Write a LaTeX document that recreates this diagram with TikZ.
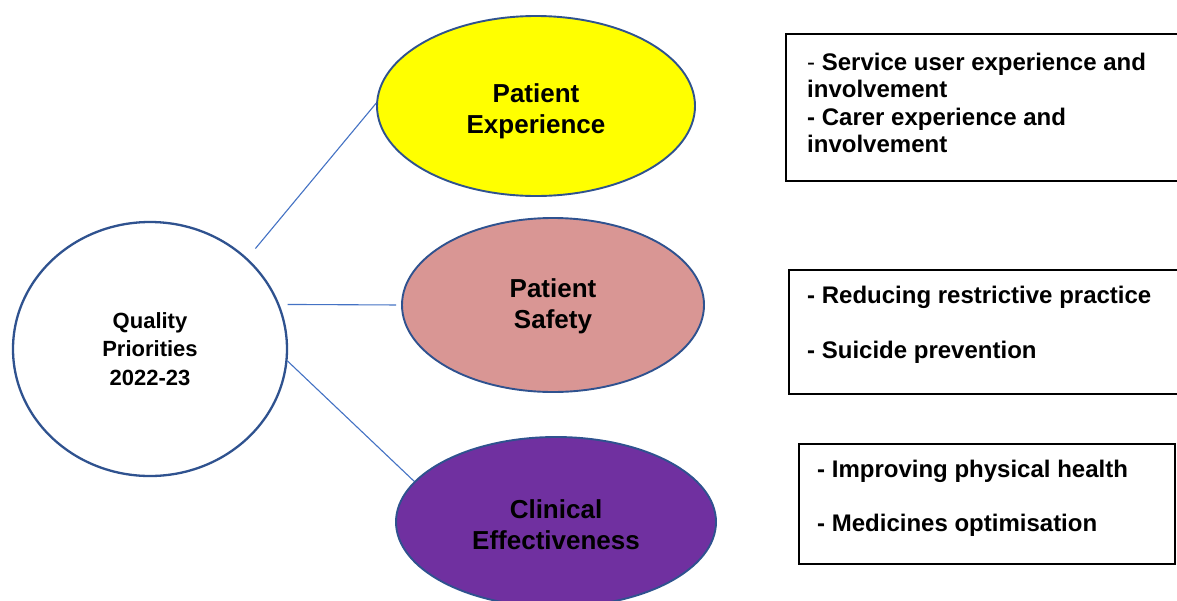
\documentclass[tikz,border=0pt]{standalone}
\usepackage{fontspec}
\setmainfont{Liberation Sans}
\usetikzlibrary{shapes.geometric}
\definecolor{rimblue}{HTML}{2F528F}
\definecolor{linkblue}{HTML}{4472C4}
\definecolor{peyellow}{HTML}{FFFF00}
\definecolor{pspink}{HTML}{D99694}
\definecolor{cepurple}{HTML}{7030A0}

\begin{document}
\begin{tikzpicture}[x=1pt,y=-1pt,
  hub/.style={ellipse, draw=rimblue, line width=2.3pt, fill=white, inner sep=0pt,
    minimum width=274pt, minimum height=254pt, align=center,
    font=\fontsize{22}{28.5}\selectfont\bfseries},
  theme/.style={ellipse, draw=rimblue, line width=1.9pt, inner sep=0pt, align=center,
    font=\fontsize{26}{31}\selectfont\bfseries},
  link/.style={draw=linkblue, line width=1.1pt},
  itembox/.style={draw=black, line width=1.6pt, fill=white, rectangle, inner sep=0pt,
    anchor=north west},
  itemtext/.style={anchor=north west, inner sep=0pt, align=left,
    font=\fontsize{24}{27.5}\selectfont\bfseries}]
\useasboundingbox (0,0) rectangle (1177,600);
\clip (0,0) rectangle (1177,600);
\fill[white] (0,0) rectangle (1177,600);

% central hub and the three themes (the leading rule lowers the text a little)
\node[hub] (q) at (150,349) {Quality\\Priorities\\2022-23};
\node[theme, fill=peyellow, minimum width=318pt, minimum height=180pt] (pe) at (536,106) {\rule{0pt}{29pt}Patient\\Experience};
\node[theme, fill=pspink, minimum width=302pt, minimum height=174pt] (ps) at (553,305) {\rule{0pt}{21pt}Patient\\Safety};
\node[theme, fill=cepurple, minimum width=320pt, minimum height=170pt] (ce) at (556,522) {\rule{0pt}{24pt}Clinical\\Effectiveness};

% connectors from the hub
\draw[link, shorten <=12.5pt] (q.43) -- (pe.179);
\draw[link, shorten <=8pt, shorten >=5pt] (q.19) -- (ps.180);
\draw[link] (q.-5) -- (ce.164);

% priority lists
\node[itembox, minimum width=420pt, minimum height=147pt] (b1) at (785,33) {};
\node[itemtext] (t1) at (807,50.75) {\strut{\mdseries -} Service user experience and\\involvement\\- Carer experience and\\involvement};

\node[itembox, minimum width=417pt, minimum height=124pt] (b2) at (788,269) {};
\node[itemtext] (t2) at (807,284) {\strut- Reducing restrictive practice\\[27.5pt]- Suicide prevention};

\node[itembox, minimum width=376pt, minimum height=120pt] (b3) at (798,443) {};
\node[itemtext] (t3) at (817,458) {\strut- Improving physical health\\[27pt]- Medicines optimisation};
\end{tikzpicture}
\end{document}
